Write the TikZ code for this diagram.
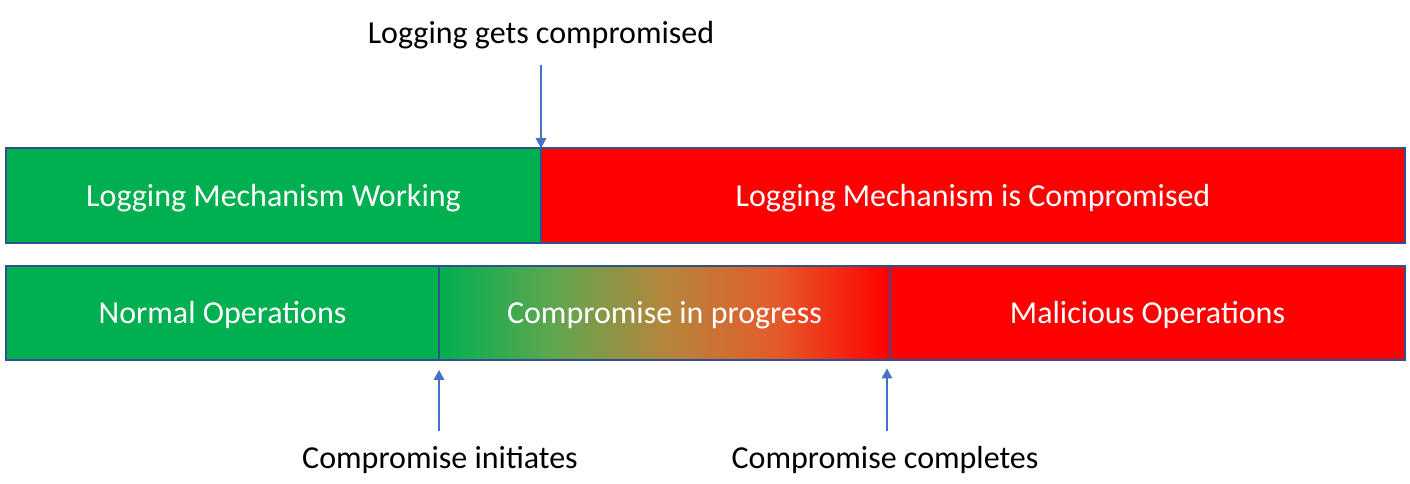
\documentclass[tikz,border=0pt]{standalone}
\usepackage{fontspec}
\setmainfont{Carlito}
\usepackage{tikz}
\usetikzlibrary{arrows.meta}

\definecolor{okgreen}{HTML}{00B050}
\definecolor{badred}{HTML}{FF0000}
\definecolor{barline}{HTML}{2F528F}
\definecolor{arrowblue}{HTML}{4472C4}
\definecolor{midA}{HTML}{5EA64F}
\definecolor{midB}{HTML}{B4863D}
\definecolor{midC}{HTML}{E55A2A}
\pgfdeclarehorizontalshading{compshade}{100bp}{color(0bp)=(okgreen); color(25bp)=(okgreen);
color(37.5bp)=(midA); color(50bp)=(midB); color(62.5bp)=(midC); color(75bp)=(badred); color(100bp)=(badred)}

\begin{document}
\begin{tikzpicture}
		[x=0.75pt,y=-0.75pt,
		bar/.style={rectangle,draw=barline,line width=1.6pt,inner sep=0pt,outer sep=0pt,
minimum height=71pt,text=white,text height=18pt,text depth=1.5pt,font=\fontsize{24}{28}\selectfont},
		good/.style={bar,fill=okgreen},
		bad/.style={bar,fill=badred},
		textstyle/.style={font=\fontsize{24}{28}\selectfont,inner sep=0pt},
		pointer/.style={draw=arrowblue,line width=0.8pt,-{Triangle[length=7.5pt,width=8pt]}}]
		\useasboundingbox (0,0) rectangle (1410,484);
		% top bar
		\node at (273.5,195.5) (lw) [good,minimum width=401.25pt] {Logging Mechanism Working};
		\node at (973,195.5) (lc) [bad,minimum width=648pt] {Logging Mechanism is Compromised};
		% bottom bar
		\node at (222.5,313) (no) [good,minimum width=324.75pt,minimum height=70.5pt] {Normal Operations};
		\node at (664.5,313) (cp) [bar,minimum width=338.25pt,minimum height=70.5pt,
			shading=compshade] {Compromise in progress};
		\node at (1147.5,313) (mo) [bad,minimum width=386.25pt,minimum height=70.5pt] {Malicious Operations};
		% labels and pointers
		\node at (541,35) (lgc) [textstyle] {Logging gets compromised};
		\coordinate (lgc-tail) at (541,65);
		\draw[pointer] (lgc-tail) -- (lw.north east);
		\node at (440,460) (ci) [textstyle] {Compromise initiates};
		\coordinate (ci-tail) at (439,431);
		\draw[pointer,shorten >=7.5pt] (ci-tail) -- (no.south east);
		\node at (885,460) (cc) [textstyle] {Compromise completes};
		\coordinate (cc-tail) at (887,431);
		\draw[pointer] (cc-tail) -- (887,368.5);
	\end{tikzpicture}
\end{document}
